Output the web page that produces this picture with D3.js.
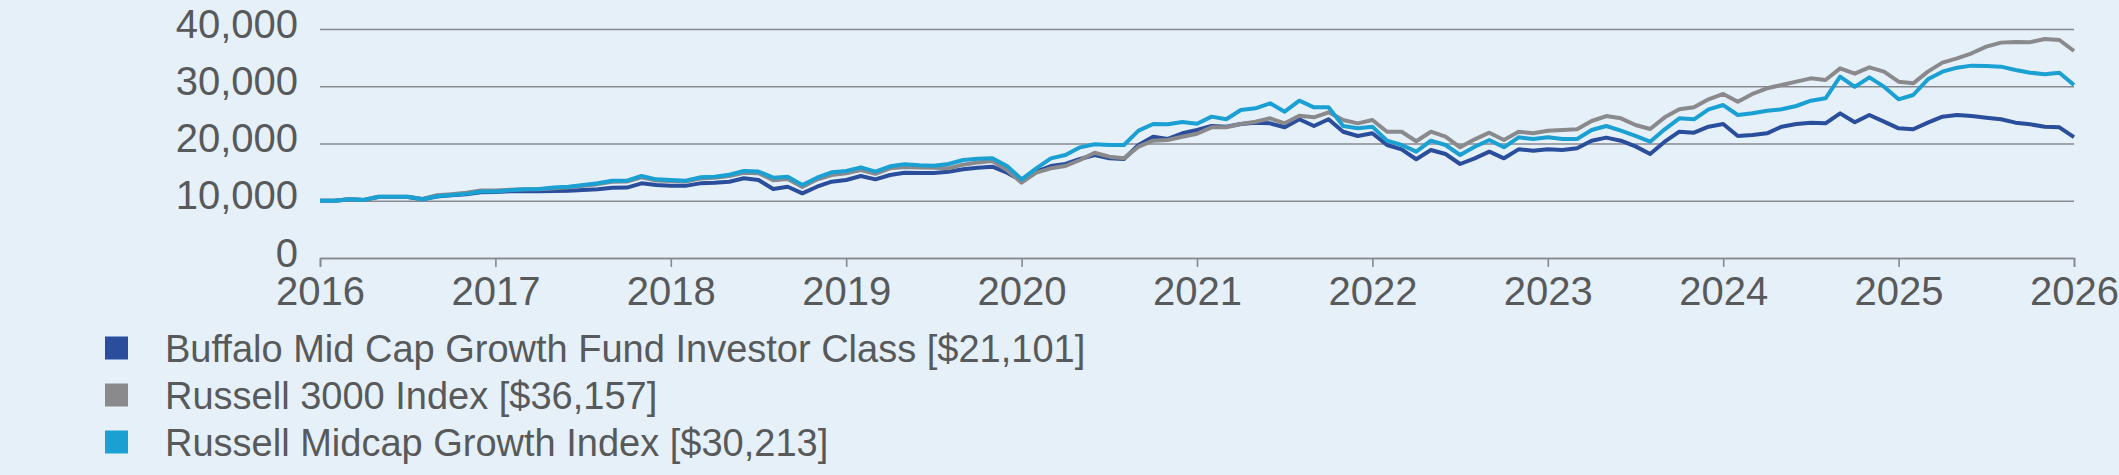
<!DOCTYPE html>
<html>
<head>
<meta charset="utf-8">
<script src="https://cdn.jsdelivr.net/npm/d3@7"></script>
<style>
  html, body { margin: 0; padding: 0; background: #e6f0f9; }
  svg { display: block; }
  text { font-family: "Liberation Sans", Arial, sans-serif; fill: #58595b; }
</style>
</head>
<body>
<svg id="chart" width="2119" height="475"></svg>
<script>
// monthly growth of $10,000, index 0..120
var fundValues = [10000,10000,10250,10150,10650,10650,10650,10250,10750,10950,11150,11500,
  11550,11650,11700,11650,11700,11760,11880,12000,12280,12300,13040,12750,
  12630,12600,13040,13150,13330,13920,13620,12050,12450,11300,12450,13330,
  13620,14320,13740,14500,14900,14850,14850,15080,15490,15780,15950,14900,
  13500,15080,16070,16420,17290,17990,17410,17290,19740,21190,20790,21780,
  22360,23060,22940,23400,23640,23520,22830,24230,23060,24230,22060,21310,
  21780,19740,18980,17250,18860,18170,16420,17410,18570,17410,18980,18740,
  18980,18860,19160,20490,21020,20490,19500,18170,20320,22060,21890,22940,
  23400,21310,21480,21780,22940,23400,23640,23520,25270,23700,24980,23810,
  22650,22480,23640,24690,24980,24800,24510,24230,23640,23350,22940,22830,
  21101];
var r3000Values = [10000,10000,10250,10150,10700,10700,10700,10300,10950,11150,11400,11800,
  11800,11900,12000,12000,12200,12350,12600,12900,13300,13350,14100,13550,
  13450,13350,13900,14000,14300,14900,14800,13600,13800,12400,13700,14500,
  14800,15370,14700,15660,15900,15800,15750,15660,16300,16700,16940,15370,
  13150,14900,15660,16070,17120,18390,17700,17410,19440,20490,20610,21190,
  21700,22830,22830,23400,23810,24400,23520,24860,24580,25450,24100,23520,
  24100,22060,22060,20400,22060,21190,19330,20730,21890,20610,22060,21780,
  22240,22360,22480,23930,24800,24400,23230,22530,24570,25970,26320,27720,
  28650,27310,28650,29640,30220,30800,31380,31090,33130,32200,33310,32550,
  30800,30510,32550,34120,34880,35760,36920,37620,37730,37700,38250,38080,
  36157];
var midGrowthValues = [10000,10000,10250,10150,10700,10700,10700,10250,10800,11000,11200,11600,
  11600,11850,12000,12050,12300,12450,12750,13050,13500,13500,14320,13740,
  13620,13500,14090,14200,14550,15200,15100,14030,14200,12750,14030,14970,
  15200,15840,15080,16010,16360,16190,16100,16420,17120,17350,17410,16070,
  13740,15660,17410,17990,19330,19860,19740,19740,22240,23400,23350,23750,
  23450,24690,24230,25850,26150,27020,25560,27480,26320,26320,23060,22650,
  22940,20490,19740,18570,20490,19740,17990,19440,20610,19330,21080,20790,
  21080,20790,20790,22360,23060,22240,21350,20320,22480,24400,24230,25970,
  26720,24980,25270,25730,25970,26550,27480,27900,31670,29880,31560,29930,
  27720,28470,31210,32550,33250,33600,33550,33420,32840,32370,32090,32370,
  30213];

var seriesNames = ["Buffalo Mid Cap Growth Fund Investor Class [$21,101]",
  "Russell 3000 Index [$36,157]",
  "Russell Midcap Growth Index [$30,213]"];
var seriesColors = ["#2a4d9c", "#8a8a8c", "#1aa0d3"];
var yTicks = [0, 10000, 20000, 30000, 40000];
var xTickLabels = ["2016","2017","2018","2019","2020","2021","2022","2023","2024","2025","2026"];

var svg = d3.select("#chart");
var plotLeft = 320, plotRight = 2074, plotTop = 29, plotBottom = 258;

var x = d3.scaleLinear().domain([0, 120]).range([plotLeft, plotRight]);
var y = d3.scaleLinear().domain([0, 40000]).range([plotBottom, plotTop]);

// y axis with gridlines
var yAxis = svg.append("g")
  .attr("transform", "translate(" + plotLeft + ",0)")
  .call(d3.axisLeft(y).tickValues(yTicks).tickSize(-(plotRight - plotLeft)).tickPadding(22)
    .tickFormat(d3.format(",")));
yAxis.select(".domain").remove();
yAxis.selectAll("line").attr("stroke", "#868a8f").attr("stroke-width", 1.6);
yAxis.selectAll("text").attr("font-size", "40px").attr("dy", "0.2em").style("fill", "#58595b");

// x axis
var xAxis = svg.append("g")
  .attr("transform", "translate(0," + plotBottom + ")")
  .call(d3.axisBottom(x).tickValues(d3.range(0, 121, 12)).tickSize(9).tickPadding(10)
    .tickFormat(function(d, i) { return xTickLabels[i]; }));
xAxis.select(".domain").attr("stroke", "#868a8f").attr("stroke-width", 1.6);
xAxis.selectAll("line").attr("stroke", "#868a8f").attr("stroke-width", 1.6);
xAxis.selectAll("text").attr("font-size", "40px").style("fill", "#58595b");

var line = d3.line().x(function(d, i) { return x(i); }).y(function(d) { return y(d); });
var allSeries = [fundValues, r3000Values, midGrowthValues];

allSeries.forEach(function(vals, k) {
  svg.append("path")
    .datum(vals)
    .attr("d", line)
    .attr("fill", "none")
    .attr("stroke", seriesColors[k])
    .attr("stroke-width", 4)
    .attr("stroke-linejoin", "round");
});

// legend
var legend = svg.append("g");
seriesNames.forEach(function(name, k) {
  var cy = 348 + k * 47;
  legend.append("rect")
    .attr("x", 105).attr("y", cy - 11.5).attr("width", 23).attr("height", 23)
    .attr("fill", seriesColors[k]);
  legend.append("text")
    .attr("x", 165).attr("y", cy).attr("dy", "0.36em")
    .attr("font-size", "38px")
    .text(name);
});
</script>
</body>
</html>
